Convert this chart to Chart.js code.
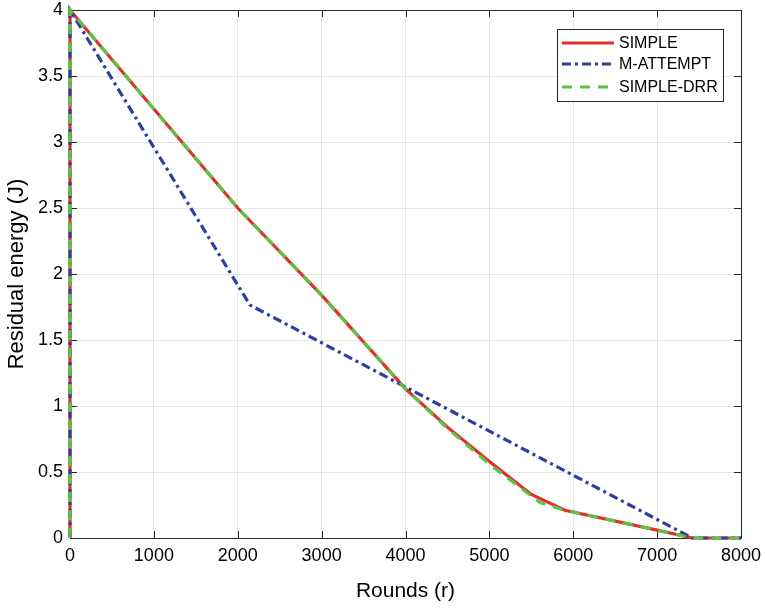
<!DOCTYPE html>
<html>
<head>
<meta charset="utf-8">
<script src="https://cdn.jsdelivr.net/npm/chart.js@4.4.0/dist/chart.umd.min.js"></script>
<style>
  html, body { margin: 0; padding: 0; background: #fff; }
  #wrap { width: 765px; height: 608px; }
</style>
</head>
<body>
<div id="wrap"><canvas id="energyChart"></canvas></div>
<script>
// rounds and residual energy
const simpleX = [0, 0, 1000, 2000, 3000, 4000, 4500, 5000, 5500, 5900, 7000, 7420, 8000];
const simpleY = [0, 4, 3.25, 2.5, 1.84, 1.13, 0.84, 0.58, 0.33, 0.21, 0.06, 0, 0];

const attemptX = [0, 0, 2145, 7420, 8000];
const attemptY = [0, 4, 1.765, 0, 0];

const drrX = [0, 0, 1000, 2000, 3000, 4000, 4500, 5000, 5600, 5900, 7000, 7420, 8000];
const drrY = [0, 4, 3.25, 2.5, 1.84, 1.13, 0.83, 0.56, 0.27, 0.21, 0.06, 0, 0];

const xTicks = [0, 1000, 2000, 3000, 4000, 5000, 6000, 7000, 8000];
const yTicks = [0, 0.5, 1, 1.5, 2, 2.5, 3, 3.5, 4];

const seriesNames = ["SIMPLE", "M-ATTEMPT", "SIMPLE-DRR"];

const toPoints = (xs, ys) => xs.map((x, i) => ({ x: x, y: ys[i] }));

// box round the plot, inward ticks and the legend, MATLAB style
const matlabFrame = {
  id: "matlabFrame",
  beforeDatasetsDraw(chart) {
    const ctx = chart.ctx;
    const a = chart.chartArea;
    const xs = chart.scales.x;
    const ys = chart.scales.y;
    ctx.save();
    ctx.strokeStyle = "#262626";
    ctx.lineWidth = 1;
    ctx.strokeRect(a.left + 0.5, a.top + 0.5, a.right - a.left, a.bottom - a.top);
    ctx.beginPath();
    xTicks.forEach((v) => {
      const p = Math.round(xs.getPixelForValue(v)) + 0.5;
      ctx.moveTo(p, a.bottom); ctx.lineTo(p, a.bottom - 7);
      ctx.moveTo(p, a.top); ctx.lineTo(p, a.top + 7);
    });
    yTicks.forEach((v) => {
      const p = Math.round(ys.getPixelForValue(v)) + 0.5;
      ctx.moveTo(a.left, p); ctx.lineTo(a.left + 7, p);
      ctx.moveTo(a.right, p); ctx.lineTo(a.right - 7, p);
    });
    ctx.stroke();
    ctx.restore();
  },
  afterDraw(chart) {
    const ctx = chart.ctx;
    ctx.save();
    const lx = 557, ly = 29, lw = 166, lh = 72;
    ctx.fillStyle = "#fff";
    ctx.fillRect(lx, ly, lw, lh);
    ctx.strokeStyle = "#262626";
    ctx.lineWidth = 1;
    ctx.strokeRect(lx + 0.5, ly + 0.5, lw, lh);
    const rows = [43, 64, 87];
    chart.data.datasets.forEach((ds, i) => {
      ctx.beginPath();
      ctx.strokeStyle = ds.borderColor;
      ctx.lineWidth = 3;
      ctx.setLineDash(ds.borderDash || []);
      ctx.moveTo(562, rows[i]);
      ctx.lineTo(614, rows[i]);
      ctx.stroke();
      ctx.setLineDash([]);
      ctx.fillStyle = "#000";
      ctx.font = "16px 'Liberation Sans', Arial, sans-serif";
      ctx.textBaseline = "middle";
      ctx.fillText(ds.label, 619, rows[i] + 1);
    });
    ctx.restore();
  },
};

const axisFont = { family: "'Liberation Sans', Arial, sans-serif", size: 18 };

new Chart(document.getElementById("energyChart"), {
  type: "line",
  data: {
    datasets: [
      {
        label: seriesNames[0],
        data: toPoints(simpleX, simpleY),
        borderColor: "#e0302a",
        borderWidth: 3.2,
        order: 2,
        clip: 6,
      },
      {
        label: seriesNames[1],
        data: toPoints(attemptX, attemptY),
        borderColor: "#2f3f9e",
        borderWidth: 3.2,
        borderDash: [9, 4, 3, 4],
        order: 1,
        clip: 6,
      },
      {
        label: seriesNames[2],
        data: toPoints(drrX, drrY),
        borderColor: "#5bc445",
        borderWidth: 3.2,
        borderDash: [10, 8],
        order: 0,
        clip: 6,
      },
    ],
  },
  options: {
    responsive: true,
    maintainAspectRatio: false,
    animation: false,
    elements: { point: { radius: 0 }, line: { tension: 0 } },
    layout: { padding: { top: 10, right: 24, left: 0, bottom: 0 } },
    plugins: {
      legend: { display: false },
      tooltip: { enabled: false },
    },
    scales: {
      x: {
        type: "linear",
        min: 0,
        max: 8000,
        afterBuildTicks: (scale) => {
          scale.ticks = xTicks.map((v) => ({ value: v }));
        },
        afterFit: (scale) => {
          scale.height = 70;
          scale.paddingLeft = 0;
          scale.paddingRight = 0;
        },
        grid: { color: "#e6e6e6", drawTicks: false },
        border: { display: false },
        ticks: {
          color: "#000",
          padding: 7,
          maxRotation: 0,
          font: axisFont,
          callback: (v) => String(v),
        },
        title: {
          display: true,
          text: "Rounds (r)",
          color: "#000",
          padding: { top: 6 },
          font: { family: "'Liberation Sans', Arial, sans-serif", size: 21 },
        },
      },
      y: {
        type: "linear",
        min: 0,
        max: 4,
        afterBuildTicks: (scale) => {
          scale.ticks = yTicks.map((v) => ({ value: v }));
        },
        afterFit: (scale) => {
          scale.width = 70;
          scale.paddingTop = 0;
          scale.paddingBottom = 0;
        },
        grid: { color: "#e6e6e6", drawTicks: false },
        border: { display: false },
        ticks: {
          color: "#000",
          padding: 7,
          font: axisFont,
          callback: (v) => String(v),
        },
        title: {
          display: true,
          text: "Residual energy (J)",
          color: "#000",
          padding: { bottom: 2 },
          font: { family: "'Liberation Sans', Arial, sans-serif", size: 22 },
        },
      },
    },
  },
  plugins: [matlabFrame],
});
</script>
</body>
</html>
